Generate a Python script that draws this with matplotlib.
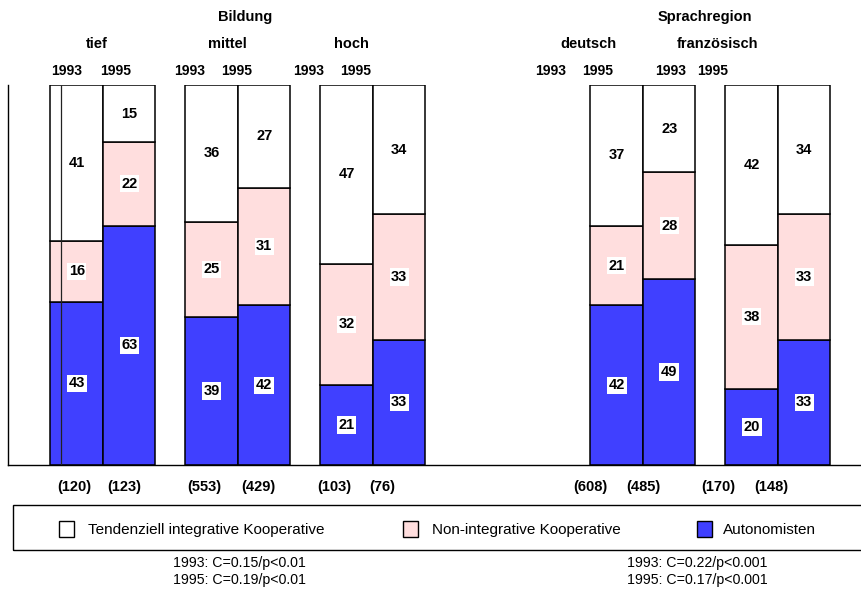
import matplotlib.pyplot as plt
from matplotlib.patches import Rectangle
import numpy as np

plt.rcParams['font.family'] = ['Liberation Sans', 'DejaVu Sans']

# --- Daten ---
gruppen = ['tief', 'mittel', 'hoch', 'deutsch', 'französisch']
jahre = ['1993', '1995']
# Anteile in %, je Gruppe: [1993, 1995]
autonomisten = [[43, 63], [39, 42], [21, 33], [42, 49], [20, 33]]
non_integrativ = [[16, 22], [25, 31], [32, 33], [21, 28], [38, 33]]
integrativ = [[41, 15], [36, 27], [47, 34], [37, 23], [42, 34]]
fallzahlen = ['(120)', '(123)', '(553)', '(429)', '(103)', '(76)',
              '(608)', '(485)', '(170)', '(148)']
kategorien = ['Tendenziell integrative Kooperative', 'Non-integrative Kooperative', 'Autonomisten']
statistik_bildung = ['1993: C=0.15/p<0.01', '1995: C=0.19/p<0.01']
statistik_sprache = ['1993: C=0.22/p<0.001', '1995: C=0.17/p<0.001']

BLAU = '#4040ff'
ROSA = '#ffdede'
WEISS = '#ffffff'
farben = [WEISS, ROSA, BLAU]

W, H = 862, 590
def fx(x): return x / W
def fy(y): return 1 - y / H

fig = plt.figure(figsize=(W / 100, H / 100), dpi=100)
ax = fig.add_axes([fx(8), fy(465), fx(862 - 8), 380 / H])
ax.set_xlim(8, 862)
ax.set_ylim(0, 100)
for s in ['top', 'right']:
    ax.spines[s].set_visible(False)
ax.spines['left'].set_linewidth(1.0)
ax.spines['bottom'].set_linewidth(1.0)
ax.set_xticks([])
ax.set_yticks([])

# Slot-Positionen der Gruppen (Lücke zwischen Bildung und Sprachregion)
slots = [0, 1, 2, 4, 5]
slot_w = 135
bar_w = 52.5
x0 = 50.5

for g, s in enumerate(slots):
    for j in range(2):
        left = x0 + s * slot_w + j * bar_w
        vals = [autonomisten[g][j], non_integrativ[g][j], integrativ[g][j]]
        cols = [BLAU, ROSA, WEISS]
        bottom = 0
        for v, c in zip(vals, cols):
            ax.bar(left, v, width=bar_w, bottom=bottom, align='edge',
                   color=c, edgecolor='black', linewidth=1.1)
            ax.text(left + bar_w / 2, bottom + v / 2, str(v), ha='center', va='center',
                    fontsize=10.5, fontweight='bold', zorder=5,
                    bbox=dict(facecolor='white', edgecolor='none', pad=1.2))
            bottom += v
        if g == 0 and j == 0:
            # Strich im ersten Balken wie im Original
            ax.vlines(left + 11, 0, 100, color='#222222', linewidth=0.9, zorder=4)

# --- Beschriftungen oben ---
fs_head = 10.5
fig.text(fx(245), fy(17), 'Bildung', ha='center', va='center', fontsize=fs_head, fontweight='bold')
fig.text(fx(705), fy(17), 'Sprachregion', ha='center', va='center', fontsize=fs_head, fontweight='bold')

gruppen_x = [97, 227, 351, 588, 718]
for name, x in zip(gruppen, gruppen_x):
    fig.text(fx(x), fy(44), name, ha='center', va='center', fontsize=fs_head, fontweight='bold')

jahr_x = [67, 116, 190, 237, 309, 356, 551, 598, 671, 713]
for i, x in enumerate(jahr_x):
    fig.text(fx(x), fy(71), jahre[i % 2], ha='center', va='center', fontsize=10, fontweight='bold')

# --- Fallzahlen unten ---
n_x = [74, 124, 204, 258, 334, 382, 590, 643, 718, 771]
for lab, x in zip(fallzahlen, n_x):
    fig.text(fx(x), fy(487), lab, ha='center', va='center', fontsize=10.5, fontweight='bold')

# --- Legende ---
fig.patches.append(Rectangle((fx(13), fy(550)), fx(870 - 13), (550 - 505) / H,
                             transform=fig.transFigure, facecolor='none',
                             edgecolor='black', linewidth=1.0))
leg_sq_x = [59, 403, 697]
leg_txt_x = [88, 432, 723]
for lab, c, sx, tx in zip(kategorien, farben, leg_sq_x, leg_txt_x):
    fig.patches.append(Rectangle((fx(sx), fy(537)), 15 / W, 16 / H,
                                 transform=fig.transFigure, facecolor=c,
                                 edgecolor='black', linewidth=1.0))
    fig.text(fx(tx), fy(530), lab, ha='left', va='center', fontsize=11)

# --- Statistik ---
for k, (a, b) in enumerate(zip(statistik_bildung, statistik_sprache)):
    yy = 563 + k * 17
    fig.text(fx(173), fy(yy), a, ha='left', va='center', fontsize=10.2)
    fig.text(fx(627), fy(yy), b, ha='left', va='center', fontsize=10.2)

fig.savefig('out.png', dpi=100)
